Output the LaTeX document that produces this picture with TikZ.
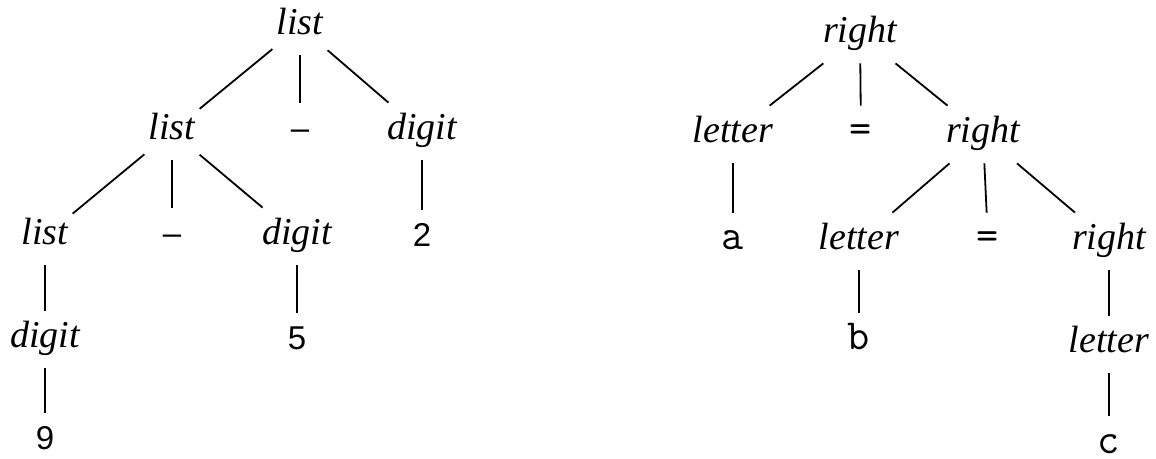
\documentclass[tikz,border=0pt]{standalone}
\usepackage{fontspec}
\setmainfont{Liberation Serif}
\newfontfamily\digfont[Ligatures=TeX]{Liberation Sans}

\begin{document}
\begin{tikzpicture}[
    x=0.5pt, y=-0.5pt,
    nt/.style={font=\fontsize{19}{22}\selectfont\itshape, anchor=base, text height=13pt, text depth=4.5pt, inner xsep=2pt, inner ysep=5.5pt},
    tdig/.style={nt, font=\fontsize{16.5}{20}\selectfont\digfont},
    tchr/.style={nt, font=\fontsize{21.5}{24}\selectfont\ttfamily},
    leaf/.style={text height=18.5pt, text depth=0pt, inner ysep=0pt},
    edge/.style={line width=0.9pt}
]
    \useasboundingbox (0,0) rectangle (1156,459);

    % left tree
    \node[nt] (l) at (300,35) {list};
    \node[nt] (ll) at (172,140) {list};
    \node[tdig] (lm) at (300,140) {--};
    \node[nt] (ld) at (422,140) {digit};
    \node[nt] (lll) at (45,245) {list};
    \node[tdig] (llm) at (172,245) {--};
    \node[nt] (lld) at (297,245) {digit};
    \node[tdig] (two) at (422,247) {2};
    \node[nt] (llld) at (45,348) {digit};
    \node[tdig] (five) at (297,350) {5};
    \node[tdig, leaf] (nine) at (45,450) {9};

    % right tree
    \node[nt] (r) at (860,43) {right};
    \node[nt] (rl) at (733,143) {letter};
    \node[tchr] (re) at (861,143) {=};
    \node[nt] (rr) at (983,143) {right};
    \node[tchr] (a) at (733,250) {a};
    \node[nt] (rrl) at (859,250) {letter};
    \node[tchr] (rre) at (988,250) {=};
    \node[nt] (rrr) at (1109,250) {right};
    \node[tchr] (b) at (859,350) {b};
    \node[nt] (rrrl) at (1109,353) {letter};
    \node[tchr, leaf] (c) at (1109,453) {c};

    % edges
    \draw[edge] (l) -- (ll);
    \draw[edge] (l) -- (lm);
    \draw[edge] (l) -- (ld);
    \draw[edge] (ll) -- (lll);
    \draw[edge] (ll) -- (llm);
    \draw[edge] (ll) -- (lld);
    \draw[edge] (ld) -- (two);
    \draw[edge] (lll) -- (llld);
    \draw[edge] (lld) -- (five);
    \draw[edge] (llld) -- (nine);

    \draw[edge] (r) -- (rl);
    \draw[edge] (r) -- (re);
    \draw[edge] (r) -- (rr);
    \draw[edge] (rl) -- (a);
    \draw[edge] (rr) -- (rrl);
    \draw[edge] (rr) -- (rre);
    \draw[edge] (rr) -- (rrr);
    \draw[edge] (rrl) -- (b);
    \draw[edge] (rrr) -- (rrrl);
    \draw[edge] (rrrl) -- (c);
\end{tikzpicture}
\end{document}
